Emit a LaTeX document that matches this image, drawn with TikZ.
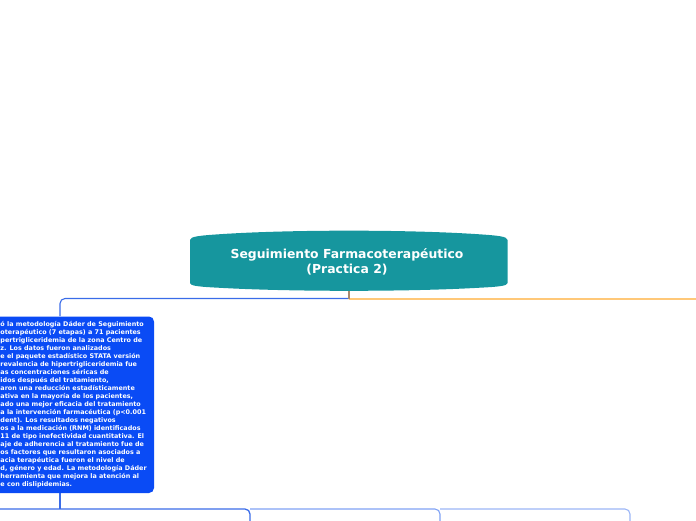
\documentclass[tikz,border=0pt]{standalone}
\usepackage{fontspec}
\setmainfont{DejaVu Sans}
\definecolor{teal1}{HTML}{16969E}
\definecolor{boxblue}{HTML}{0A4BF5}
\definecolor{lineblue}{HTML}{3A6CE8}
\definecolor{lineblue2}{HTML}{7FA2F4}
\definecolor{lineblue3}{HTML}{9BB6F6}
\definecolor{lineorange}{HTML}{FFC878}
\definecolor{stemtan}{HTML}{A88A70}
\tikzset{
  conn/.style={line width=1.1pt, rounded corners=5pt},
  maintext/.style={text=white, font=\bfseries\fontsize{12.4}{15}\selectfont, align=center},
  boxtext/.style={text=white, font=\bfseries\fontsize{6.4}{7.97}\selectfont, align=left, anchor=north west, inner sep=0pt}
}
\begin{document}
\begin{tikzpicture}[x=1pt,y=-1pt]
\useasboundingbox (0,0) rectangle (696,520);
\clip (0,0) rectangle (696,520);
% connectors
\draw[lineorange, line width=2pt] (349,298.5) -- (700,298.5);
\coordinate (c1) at (60,316);
\draw[conn, lineblue] (349,298.5) -- (60,298.5) -- (c1);
\draw[stemtan, line width=1.2pt] (349,289) -- (349,298.5);
% bottom bus
\draw[conn, lineblue, line width=1.3pt] (-10,509) -- (250,509) -- (250,525);
\draw[conn, lineblue2] (250,509) -- (440,509) -- (440,525);
\draw[conn, lineblue3] (440,509) -- (630,509) -- (630,525);
\draw[lineblue, line width=1.2pt] (60,493) -- (60,509);
% central node
\fill[teal1] (190,240) .. controls (190,236.5) and (200,235.5) .. (220,234.2)
  .. controls (290,229.5) and (408,229.5) .. (478,234.2)
  .. controls (498,235.5) and (507.5,236.5) .. (507.5,240)
  -- (507.5,283) .. controls (507.5,286) and (498,286.8) .. (478,287.8)
  .. controls (408,291.8) and (290,291.8) .. (220,287.8)
  .. controls (200,286.8) and (190,286) .. (190,283) -- cycle;
\node[maintext] (main) at (347,261.8) {Seguimiento Farmacoterapéutico\\(Practica 2)};
% blue box
\fill[boxblue, rounded corners=5pt] (-10,316.5) rectangle (154,493);
\node[boxtext] (desc) at (0.3,321.3) {ó la metodología Dáder de Seguimiento\\
oterapéutico (7 etapas) a 71 pacientes\\
pertrigliceridemia de la zona Centro de\\
z. Los datos fueron analizados\\
e el paquete estadístico STATA versión\\
revalencia de hipertrigliceridemia fue\\
as concentraciones séricas de\\
idos después del tratamiento,\\
aron una reducción estadísticamente\\
ativa en la mayoría de los pacientes,\\
ado una mejor eficacia del tratamiento\\
a la intervención farmacéutica (p<0.001\\
dent). Los resultados negativos\\
os a la medicación (RNM) identificados\\
11 de tipo inefectividad cuantitativa. El\\
aje de adherencia al tratamiento fue de\\
os factores que resultaron asociados a\\
acia terapéutica fueron el nivel de\\
d, género y edad. La metodología Dáder\\
herramienta que mejora la atención al\\
e con dislipidemias.};
\end{tikzpicture}
\end{document}
